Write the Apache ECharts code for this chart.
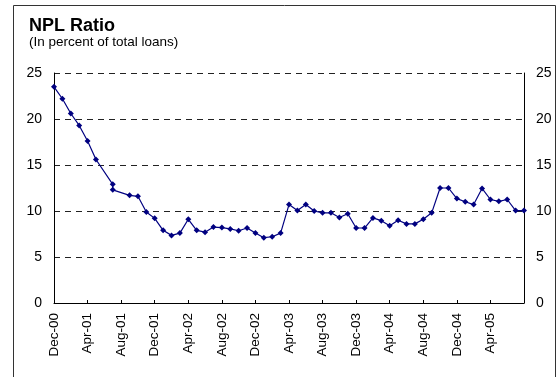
<!DOCTYPE html>
<html>
<head>
<meta charset="utf-8">
<script src="https://cdn.jsdelivr.net/npm/echarts@6/dist/echarts.min.js"></script>
<style>
  html, body { margin: 0; padding: 0; background: #fff; }
  #chart { width: 557px; height: 377px; }
</style>
</head>
<body>
<div id="chart"></div>
<script>
// Monthly category axis, Dec-00 through Aug-05
const months = [
  'Dec-00',
  'Jan-01','Feb-01','Mar-01','Apr-01','May-01','Jun-01','Jul-01','Aug-01','Sep-01','Oct-01','Nov-01','Dec-01',
  'Jan-02','Feb-02','Mar-02','Apr-02','May-02','Jun-02','Jul-02','Aug-02','Sep-02','Oct-02','Nov-02','Dec-02',
  'Jan-03','Feb-03','Mar-03','Apr-03','May-03','Jun-03','Jul-03','Aug-03','Sep-03','Oct-03','Nov-03','Dec-03',
  'Jan-04','Feb-04','Mar-04','Apr-04','May-04','Jun-04','Jul-04','Aug-04','Sep-04','Oct-04','Nov-04','Dec-04',
  'Jan-05','Feb-05','Mar-05','Apr-05','May-05','Jun-05','Jul-05','Aug-05'
];

// Observation dates (Jul-01 has two readings; Jun-01 and Aug-01 are not reported)
const pointMonths = [
  'Dec-00','Jan-01','Feb-01','Mar-01','Apr-01','May-01','Jul-01','Jul-01','Sep-01','Oct-01','Nov-01','Dec-01',
  'Jan-02','Feb-02','Mar-02','Apr-02','May-02','Jun-02','Jul-02','Aug-02','Sep-02','Oct-02','Nov-02','Dec-02',
  'Jan-03','Feb-03','Mar-03','Apr-03','May-03','Jun-03','Jul-03','Aug-03','Sep-03','Oct-03','Nov-03','Dec-03',
  'Jan-04','Feb-04','Mar-04','Apr-04','May-04','Jun-04','Jul-04','Aug-04','Sep-04','Oct-04','Nov-04','Dec-04',
  'Jan-05','Feb-05','Mar-05','Apr-05','May-05','Jun-05','Jul-05','Aug-05'
];

// NPL ratio, in percent of total loans
const nplRatio = [
  23.5, 22.2, 20.6, 19.3, 17.6, 15.6, 12.9, 12.3, 11.7, 11.6, 9.9, 9.2,
  7.9, 7.35, 7.6, 9.1, 7.9, 7.7, 8.25, 8.2, 8.05, 7.85, 8.15, 7.6,
  7.1, 7.2, 7.6, 10.7, 10.05, 10.7, 10.0, 9.8, 9.8, 9.3, 9.7, 8.15,
  8.15, 9.25, 8.95, 8.4, 9.0, 8.6, 8.6, 9.1, 9.8, 12.5, 12.5, 11.35,
  11.0, 10.7, 12.45, 11.25, 11.05, 11.25, 10.05, 10.05
];

// Labelled months: every fourth month from Dec-00 up to Apr-05
const labelStep = 4;
const lastLabel = 'Apr-05';

const yTicks = { min: 0, max: 25, interval: 5 };

const seriesData = pointMonths.map((m, i) => [months.indexOf(m), nplRatio[i]]);
const lastLabelIdx = months.indexOf(lastLabel);
const showTick = (idx) => idx % labelStep === 0 && idx <= lastLabelIdx;

const FONT = 'Liberation Sans, Arial, sans-serif';

const chart = echarts.init(document.getElementById('chart'), null, { renderer: 'canvas' });

const yAxisBase = {
  type: 'value',
  min: yTicks.min,
  max: yTicks.max,
  interval: yTicks.interval,
  axisLine: { show: true, lineStyle: { color: '#000', width: 1 } },
  axisTick: { show: false },
  axisLabel: { color: '#000', fontSize: 14, fontFamily: FONT, margin: 12 }
};

chart.setOption({
  animation: false,
  backgroundColor: '#fff',
  title: [
    {
      text: 'NPL Ratio',
      left: 29, top: 17, padding: 0,
      textStyle: { fontSize: 18, fontWeight: 'bold', color: '#000', fontFamily: FONT }
    },
    {
      text: '(In percent of total loans)',
      left: 29, top: 35, padding: 0,
      textStyle: { fontSize: 13.5, fontWeight: 'normal', color: '#000', fontFamily: FONT }
    }
  ],
  graphic: [
    {
      type: 'rect',
      shape: { x: 13.5, y: 5.5, width: 542, height: 400 },
      style: { fill: 'none', stroke: '#333', lineWidth: 1 },
      silent: true
    }
  ],
  grid: { left: 54, right: 33, top: 73, bottom: 74, containLabel: false },
  xAxis: {
    type: 'category',
    data: months,
    boundaryGap: false,
    axisLine: { show: true, onZero: false, lineStyle: { color: '#000', width: 1 } },
    axisTick: { show: true, inside: true, length: 3, interval: (idx) => showTick(idx), lineStyle: { color: '#000' } },
    axisLabel: {
      interval: (idx) => showTick(idx),
      rotate: 90,
      margin: 10,
      color: '#000',
      fontSize: 13.5,
      fontFamily: FONT
    },
    splitLine: { show: false }
  },
  yAxis: [
    Object.assign({}, yAxisBase, {
      position: 'left',
      splitLine: { show: true, lineStyle: { color: '#222', type: [6, 5], width: 1 } }
    }),
    Object.assign({}, yAxisBase, {
      position: 'right',
      splitLine: { show: false }
    })
  ],
  series: [
    {
      type: 'line',
      yAxisIndex: 0,
      data: seriesData,
      symbol: 'diamond',
      symbolSize: 6,
      showSymbol: true,
      showAllSymbol: true,
      itemStyle: { color: '#000080' },
      lineStyle: { color: '#000080', width: 1.2 },
      silent: true
    }
  ]
});
</script>
</body>
</html>
